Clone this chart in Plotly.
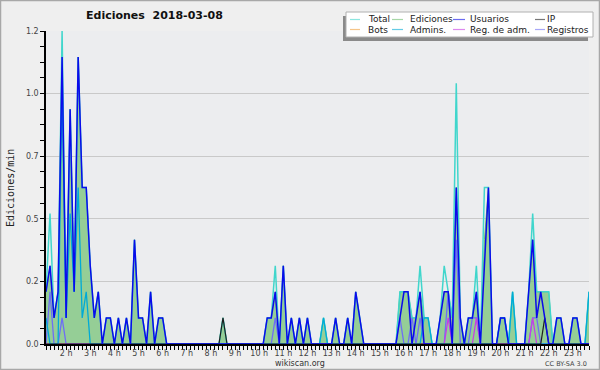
import plotly.graph_objects as go

# ---- data: 10-minute bins from 01:10 to 23:40 (136 bins), edits per minute ----
start_hour = 1 + 1/6
bin_hours = 1/6
ediciones = [0.2, 0.3, 0.1, 0.2, 1.1, 0.1, 0.9, 0.2, 1.1, 0.6,
             0.6, 0.3, 0.1, 0.2, 0, 0.1, 0.1, 0, 0.1, 0,
             0.1, 0, 0.4, 0.1, 0.1, 0, 0.2, 0, 0.1, 0.1,
             0, 0, 0, 0, 0, 0, 0, 0, 0, 0,
             0, 0, 0, 0, 0.1, 0, 0, 0, 0, 0,
             0, 0, 0, 0, 0, 0.1, 0.1, 0.2, 0, 0.3,
             0, 0.1, 0, 0.1, 0, 0.1, 0, 0, 0, 0.1,
             0, 0, 0.1, 0, 0, 0.1, 0, 0.2, 0.1, 0,
             0, 0, 0, 0, 0, 0, 0, 0, 0.2, 0.2,
             0.2, 0.1, 0.1, 0.2, 0.1, 0.1, 0, 0, 0.1, 0.2,
             0.2, 0.1, 0.6, 0.1, 0, 0.1, 0.1, 0.2, 0, 0.4,
             0.6, 0, 0, 0.1, 0.1, 0, 0.2, 0, 0, 0,
             0.2, 0.4, 0.2, 0.2, 0.2, 0.2, 0, 0.1, 0.1, 0,
             0, 0.1, 0.1, 0, 0, 0.2]
usuarios = [0.2, 0.3, 0.1, 0.2, 1.1, 0.1, 0.9, 0.2, 1.1, 0.6,
            0.6, 0.3, 0.1, 0.2, 0, 0.1, 0.1, 0, 0.1, 0,
            0.1, 0, 0.4, 0.1, 0.1, 0, 0.2, 0, 0.1, 0.1,
            0, 0, 0, 0, 0, 0, 0, 0, 0, 0,
            0, 0, 0, 0, 0, 0, 0, 0, 0, 0,
            0, 0, 0, 0, 0, 0.1, 0.1, 0.2, 0, 0.3,
            0, 0.1, 0, 0.1, 0, 0.1, 0, 0, 0, 0,
            0, 0, 0.1, 0, 0, 0.1, 0, 0.2, 0.1, 0,
            0, 0, 0, 0, 0, 0, 0, 0, 0.1, 0.2,
            0.2, 0, 0.1, 0.2, 0, 0, 0, 0, 0.1, 0.2,
            0.2, 0, 0.6, 0.1, 0, 0.1, 0.1, 0.2, 0, 0.3,
            0.6, 0, 0, 0.1, 0.1, 0, 0, 0, 0, 0,
            0.2, 0.4, 0.1, 0.2, 0.1, 0, 0, 0.1, 0.1, 0,
            0, 0.1, 0.1, 0, 0, 0]
total = [0.2, 0.5, 0.1, 0.2, 1.2, 0.1, 0.9, 0.2, 1.1, 0.6,
         0.6, 0.3, 0.1, 0.2, 0, 0.1, 0.1, 0, 0.1, 0,
         0.1, 0, 0.4, 0.1, 0.1, 0, 0.2, 0, 0.1, 0.1,
         0, 0, 0, 0, 0, 0, 0, 0, 0, 0,
         0, 0, 0, 0, 0.1, 0, 0, 0, 0, 0,
         0, 0, 0, 0, 0, 0.1, 0.1, 0.3, 0, 0.3,
         0, 0.1, 0, 0.1, 0, 0.1, 0, 0, 0, 0.1,
         0, 0, 0.1, 0, 0, 0.1, 0, 0.2, 0.1, 0,
         0, 0, 0, 0, 0, 0, 0, 0, 0.2, 0.2,
         0.2, 0.1, 0.1, 0.3, 0.1, 0.1, 0, 0, 0.1, 0.3,
         0.2, 0.1, 1.0, 0.1, 0, 0.1, 0.1, 0.3, 0, 0.6,
         0.6, 0, 0, 0.1, 0.1, 0, 0.2, 0, 0, 0,
         0.2, 0.5, 0.2, 0.2, 0.2, 0.2, 0, 0.1, 0.1, 0,
         0, 0.1, 0.1, 0, 0, 0.2]
admins_idx = [0, 4, 5, 6, 7, 8, 9, 10, 69, 94, 95, 113, 114, 116, 135]
admins_val = [0.1, 1.0, 0.1, 0.5, 0.2, 0.6, 0.1, 0.2, 0.1, 0.1, 0.1, 0.1, 0.1, 0.2, 0.2]
registros_idx = [1, 4, 57, 88, 91, 93, 100, 102, 106, 107, 121, 122]
registros_val = [0.2, 0.1, 0.1, 0.1, 0.1, 0.1, 0.2, 0.4, 0.1, 0.1, 0.1, 0.1]
regadm_idx = [100, 107, 121]
regadm_val = [0.1, 0.1, 0.1]
ip_idx = [44, 124]
ip_val = [0.1, 0.1]

ytick_vals = [0, 0.24, 0.48, 0.72, 0.96, 1.2]
ytick_text = ["0.0", "0.2", "0.5", "0.7", "1.0", "1.2"]
hour_ticks = list(range(2, 24))
hour_labels = [f"{h} h" for h in hour_ticks]

n = len(ediciones)
x = [start_hour + i * bin_hours for i in range(n)]


def expand(idx, val):
    out = [0.0] * n
    for i, v in zip(idx, val):
        out[i] = v
    return out


admins = expand(admins_idx, admins_val)
registros = expand(registros_idx, registros_val)
regadm = expand(regadm_idx, regadm_val)
ip = expand(ip_idx, ip_val)
bots = [0.0] * n

C_TOTAL = "rgb(64,214,204)"
C_EDIC = "rgb(110,190,110)"
C_USR = "rgb(10,10,235)"
C_IP = "rgb(30,30,30)"
C_BOTS = "rgb(240,160,60)"
C_ADM = "rgb(0,170,215)"
C_REGADM = "rgb(200,60,230)"
C_REG = "rgb(110,110,245)"

fig = go.Figure()
fig.add_trace(go.Scatter(x=x, y=ediciones, mode="lines", line=dict(color=C_EDIC, width=1),
                         fill="tozeroy", fillcolor="rgba(120,195,120,0.75)", showlegend=False))
fig.add_trace(go.Scatter(x=x, y=total, mode="lines", line=dict(color=C_TOTAL, width=1.5), showlegend=False))
fig.add_trace(go.Scatter(x=x, y=bots, mode="lines", line=dict(color=C_BOTS, width=1.2), showlegend=False))
fig.add_trace(go.Scatter(x=x, y=registros, mode="lines", line=dict(color=C_REG, width=1.3), showlegend=False))
fig.add_trace(go.Scatter(x=x, y=regadm, mode="lines", line=dict(color=C_REGADM, width=1.2), showlegend=False))
fig.add_trace(go.Scatter(x=x, y=admins, mode="lines", line=dict(color=C_ADM, width=1.3), showlegend=False))
fig.add_trace(go.Scatter(x=x, y=ip, mode="lines", line=dict(color=C_IP, width=1.2), showlegend=False))
fig.add_trace(go.Scatter(x=x, y=usuarios, mode="lines", line=dict(color=C_USR, width=1.5), showlegend=False))

L, R, T, B = 46, 589, 31, 344


def px(X):
    return (X - L) / (R - L)


def py(Y):
    return (B - Y) / (B - T)


shapes = []
annots = []
# outer frame
shapes.append(dict(type="rect", xref="paper", yref="paper", x0=px(0.5), x1=px(599.5), y0=py(0.5), y1=py(369.5),
                   line=dict(color="#a8a8a8", width=1.5), fillcolor="rgba(0,0,0,0)", layer="above"))
# legend shadow & box
shapes.append(dict(type="rect", xref="paper", yref="paper", x0=px(343), x1=px(588), y0=py(16), y1=py(41),
                   line=dict(width=0), fillcolor="#8a8a8a", layer="above"))
shapes.append(dict(type="rect", xref="paper", yref="paper", x0=px(346), x1=px(593), y0=py(12), y1=py(37),
                   line=dict(color="#b0b0b0", width=1), fillcolor="white", layer="above"))
# (name, colour, sample x0, sample x1, text x, row y)
legend_items = [
    ("Total", C_TOTAL, 350, 360, 366, 19.5), ("Ediciones", C_EDIC, 392, 403, 408, 19.5),
    ("Usuarios", C_USR, 453, 465, 468, 19.5), ("IP", C_IP, 535, 545, 545, 19.5),
    ("Bots", C_BOTS, 350, 360, 366, 29.5), ("Admins.", C_ADM, 392, 403, 408, 29.5),
    ("Reg. de adm.", C_REGADM, 453, 465, 468, 29.5), ("Registros", C_REG, 535, 545, 545, 29.5),
]
for name, col, X0, X1, TX, Y0 in legend_items:
    shapes.append(dict(type="line", xref="paper", yref="paper", x0=px(X0), x1=px(X1), y0=py(Y0), y1=py(Y0),
                       line=dict(color=col, width=1.2), layer="above", opacity=0.6))
    annots.append(dict(text=name, xref="paper", yref="paper", x=px(TX),
                       y=py(Y0), xanchor="left", yanchor="middle", showarrow=False,
                       font=dict(family="DejaVu Sans", size=9, color="#222")))

annots.append(dict(text="<b>Ediciones  2018-03-08</b>", xref="paper", yref="paper", x=px(154), y=py(16),
                   xanchor="center", yanchor="middle", showarrow=False,
                   font=dict(family="DejaVu Sans", size=11, color="#111")))
annots.append(dict(text="Ediciones/min", xref="paper", yref="paper", x=px(10), y=py(188), textangle=-90,
                   xanchor="center", yanchor="middle", showarrow=False,
                   font=dict(family="DejaVu Sans Mono", size=10, color="#222")))
annots.append(dict(text="wikiscan.org", xref="paper", yref="paper", x=px(300), y=py(363),
                   xanchor="center", yanchor="middle", showarrow=False,
                   font=dict(family="DejaVu Sans", size=8, color="#333")))
annots.append(dict(text="CC BY-SA 3.0", xref="paper", yref="paper", x=px(589), y=py(363.5),
                   xanchor="right", yanchor="middle", showarrow=False,
                   font=dict(family="DejaVu Sans", size=6.5, color="#444")))

fig.update_layout(
    width=600, height=370,
    margin=dict(l=L, r=600 - R, t=T, b=370 - B, pad=0, autoexpand=False),
    paper_bgcolor="#efefef", plot_bgcolor="#ecedef",
    shapes=shapes, annotations=annots, showlegend=False,
)
fig.update_xaxes(range=[x[0], x[-1]], tickvals=hour_ticks, ticktext=hour_labels,
                 showgrid=False, zeroline=False, showline=True, linecolor="black", linewidth=2,
                 ticks="outside", ticklen=4, tickcolor="black", tickwidth=1, ticklabelstandoff=-4,
                 tickfont=dict(family="DejaVu Sans", size=8, color="#444"),
                 minor=dict(dtick=bin_hours, tick0=start_hour, ticks="outside", ticklen=4, tickcolor="black", tickwidth=1))
fig.update_yaxes(range=[0, 1.2], tickvals=ytick_vals, ticktext=ytick_text,
                 showgrid=True, gridcolor="#c9c9c9", gridwidth=1, zeroline=False,
                 showline=True, linecolor="black", linewidth=1.5,
                 ticks="outside", ticklen=4, tickcolor="black", tickwidth=1,
                 tickfont=dict(family="DejaVu Sans", size=8, color="#444"),
                 minor=dict(dtick=0.06, ticks="outside", ticklen=4, tickcolor="black", tickwidth=1, showgrid=False))

fig.write_html("out.html", config={"displayModeBar": False},
               post_script="document.body.style.margin='0';document.body.style.background='#efefef';")
